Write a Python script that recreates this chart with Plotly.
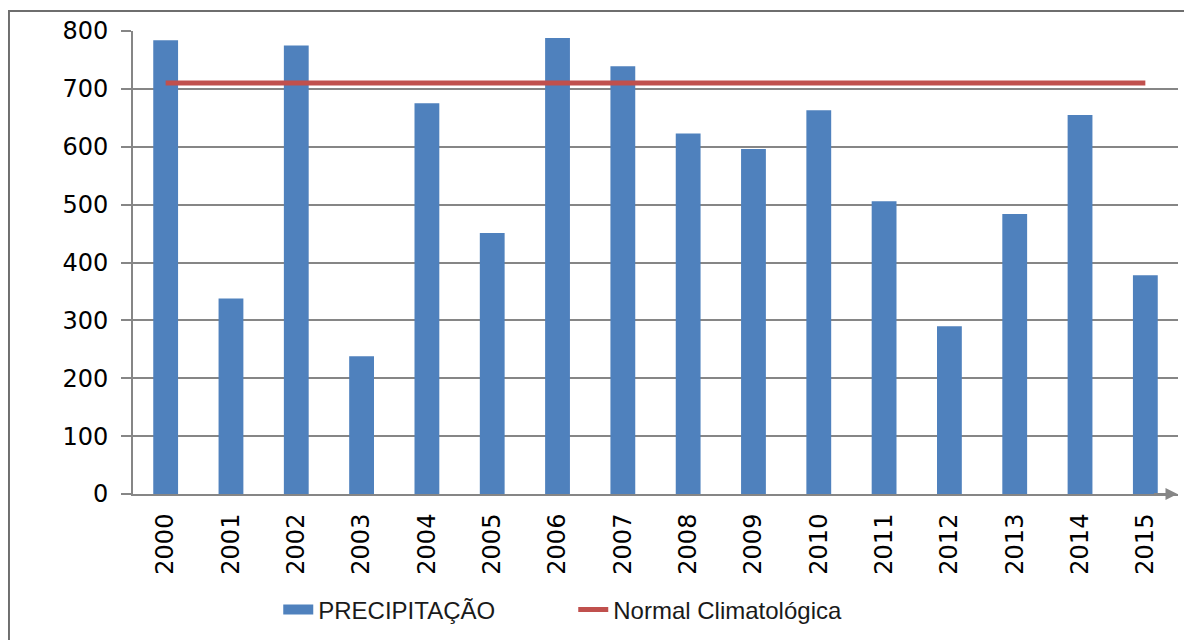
import plotly.graph_objects as go

anos = ["2000", "2001", "2002", "2003", "2004", "2005", "2006", "2007",
        "2008", "2009", "2010", "2011", "2012", "2013", "2014", "2015"]
precipitacao = [784, 338, 775, 238, 675, 451, 788, 739,
                623, 596, 663, 506, 290, 484, 655, 378]
normal = [710] * len(anos)
y_ticks = [0, 100, 200, 300, 400, 500, 600, 700, 800]

BLUE = "#4F81BD"
RED = "#C0504D"

fig = go.Figure()
fig.add_trace(go.Bar(x=anos, y=precipitacao, name="PRECIPITAÇÃO", showlegend=False,
                     legendgroup="p", marker=dict(color=BLUE, line=dict(width=0)), width=0.38))
# legend entry drawn as a wide block, like the original
fig.add_trace(go.Scatter(x=[None], y=[None], name="PRECIPITAÇÃO", mode="lines",
                         legendgroup="p", line=dict(color=BLUE, width=18)))
fig.add_trace(go.Scatter(x=anos, y=normal, name="Normal Climatológica", mode="lines",
                         line=dict(color=RED, width=5)))

fig.update_layout(
    width=1184, height=632,
    margin=dict(l=125, r=14, t=23, b=146, autoexpand=False),
    paper_bgcolor="white", plot_bgcolor="white",
    showlegend=True,
    legend=dict(orientation="h", x=0.139, xanchor="left", y=-0.2505, yanchor="middle",
                font=dict(family="Liberation Sans, Arial", size=24, color="#1a1a1a"),
                entrywidth=250, entrywidthmode="pixels",
                tracegroupgap=0, bgcolor="rgba(0,0,0,0)"),
    bargap=0.62,
)
fig.update_xaxes(type="category", tickangle=-90, showgrid=False, automargin=False,
                 showline=True, linecolor="#868686", linewidth=2,
                 ticks="", ticklabelstandoff=8,
                 tickfont=dict(family="DejaVu Sans, Verdana", size=24, color="black"),
                 range=[-0.5, 15.5])
fig.update_yaxes(range=[0, 800], tickvals=y_ticks, showgrid=True, gridcolor="#868686", gridwidth=2,
                 showline=True, linecolor="#868686", linewidth=2, automargin=False,
                 ticks="outside", ticklen=10, tickcolor="#868686", tickwidth=2,
                 ticklabelstandoff=8,
                 tickfont=dict(family="DejaVu Sans, Verdana", size=24, color="black"),
                 zeroline=False)

# outer border of chart area
fig.add_shape(type="rect", xref="paper", yref="paper",
              x0=-0.1187, x1=1.2, y0=-0.5, y1=1.0432,
              line=dict(color="#6e6e6e", width=2), fillcolor="rgba(0,0,0,0)", layer="below")
# arrow at the end of x axis
fig.add_annotation(xref="paper", yref="paper", x=0.9995, y=0, ax=-25, ay=0,
                   showarrow=True, arrowhead=2, arrowsize=1.2, arrowwidth=2,
                   arrowcolor="#868686", text="")

fig.write_html("out.html")
